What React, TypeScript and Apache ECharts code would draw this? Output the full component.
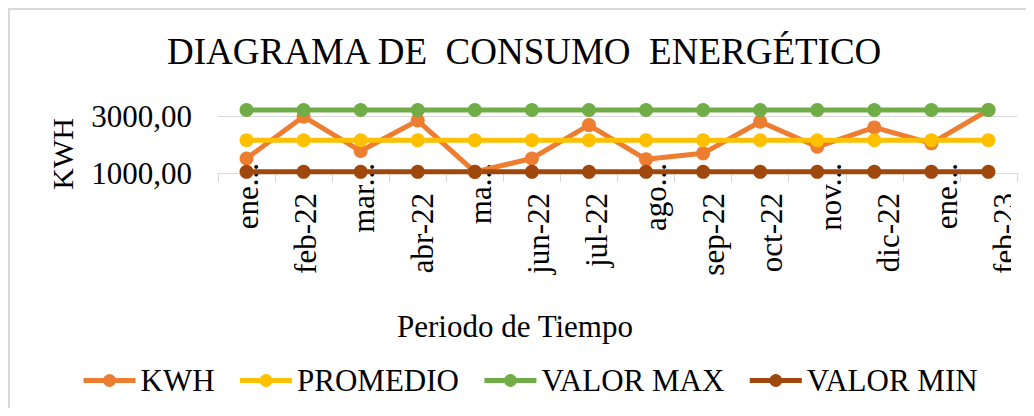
import React, { useEffect, useRef } from "react";
import * as echarts from "echarts";

// Monthly energy consumption (kWh) with its average, maximum and minimum
const months = [
  "ene-22", "feb-22", "mar-22", "abr-22", "may-22", "jun-22", "jul-22",
  "ago-22", "sep-22", "oct-22", "nov-22", "dic-22", "ene-23", "feb-23",
];
// Category labels as they appear under the axis (long ones are shortened)
const tickLabels = [
  "ene...", "feb-22", "mar...", "abr-22", "ma...", "jun-22", "jul-22",
  "ago...", "sep-22", "oct-22", "nov...", "dic-22", "ene...", "feb-23",
];
const kwh = [1510, 2980, 1770, 2840, 1040, 1510, 2680, 1480, 1690, 2800, 1920, 2600, 2040, 3210];
const promedio = [2150, 2150, 2150, 2150, 2150, 2150, 2150, 2150, 2150, 2150, 2150, 2150, 2150, 2150];
const valorMax = [3210, 3210, 3210, 3210, 3210, 3210, 3210, 3210, 3210, 3210, 3210, 3210, 3210, 3210];
const valorMin = [1040, 1040, 1040, 1040, 1040, 1040, 1040, 1040, 1040, 1040, 1040, 1040, 1040, 1040];
const yTicks = { min: 1000, max: 3000, interval: 2000 };

const FONT = "'Liberation Serif', 'Times New Roman', serif";
const GRID_COLOR = "#d9d9d9";

function lineSeries(name: string, data: number[], color: string) {
  return {
    name,
    type: "line",
    data,
    xAxisIndex: 0,
    yAxisIndex: 0,
    clip: false,
    symbol: "circle",
    symbolSize: 14,
    lineStyle: { width: 5, color },
    itemStyle: { color },
  };
}

export default function App() {
  const ref = useRef<HTMLDivElement>(null);

  useEffect(() => {
    document.body.style.overflow = "hidden";
    if (!ref.current) return;
    const chart = echarts.init(ref.current, null, { renderer: "svg" });

    const labelStyle = { fontFamily: FONT, fontSize: 31, color: "#000" };

    chart.setOption({
      animation: false,
      backgroundColor: "transparent",
      title: {
        text: "DIAGRAMA DE  CONSUMO  ENERGÉTICO",
        left: 159,
        top: 25,
        padding: 0,
        textStyle: { fontFamily: FONT, fontSize: 37, fontWeight: "normal", color: "#000" },
      },
      legend: {
        left: 73,
        top: 357,
        padding: 0,
        itemWidth: 52,
        itemHeight: 16,
        itemGap: 23,
        lineStyle: { width: 5 },
        textStyle: { fontFamily: FONT, fontSize: 31, color: "#000" },
        data: ["KWH", "PROMEDIO", "VALOR MAX", "VALOR MIN"],
      },
      grid: [
        { left: 210, right: 17, top: 108, bottom: 235, containLabel: false },
        // wider twin grid that only carries the category labels
        { left: 210, right: -3, top: 108, bottom: 235, containLabel: false },
      ],
      xAxis: [
        {
          type: "category",
          gridIndex: 0,
          data: months,
          boundaryGap: true,
          axisLine: { show: true, lineStyle: { color: GRID_COLOR, width: 1 } },
          axisTick: { show: true, length: 9, lineStyle: { color: GRID_COLOR } },
          axisLabel: { show: false },
          name: "Periodo de Tiempo",
          nameLocation: "middle",
          nameGap: 138,
          nameTextStyle: { ...labelStyle, padding: [0, 205, 0, 0] },
        },
        {
          type: "category",
          gridIndex: 1,
          data: months,
          boundaryGap: true,
          axisLine: { show: false },
          axisTick: { show: false },
          splitLine: { show: false },
          axisLabel: {
            interval: 0,
            rotate: 90,
            margin: -10,
            ...labelStyle,
            formatter: (_: string, i: number) => {
              const t = tickLabels[i];
              return t.endsWith("...") ? `{cut|${t}}` : `{full|${t}}`;
            },
            rich: {
              cut: { ...labelStyle },
              full: { ...labelStyle, padding: [0, 30, 0, 0] },
            },
          },
        },
      ],
      yAxis: [
        {
          type: "value",
          gridIndex: 0,
          min: yTicks.min,
          max: yTicks.max,
          interval: yTicks.interval,
          axisLine: { show: false },
          axisTick: { show: false },
          splitLine: { show: true, lineStyle: { color: GRID_COLOR, width: 1 } },
          axisLabel: {
            ...labelStyle,
            margin: 26,
            formatter: (v: number) => v.toFixed(2).replace(".", ","),
          },
          name: "KWH",
          nameLocation: "middle",
          nameGap: 141,
          nameTextStyle: { fontFamily: FONT, fontSize: 30, color: "#000", padding: [0, 19, 0, 0] },
        },
        { type: "value", gridIndex: 1, show: false, min: 0, max: 1 },
      ],
      graphic: [
        {
          type: "rect",
          z: 100,
          shape: { x: 1003, y: 177, width: 30, height: 120 },
          style: { fill: "#fff" },
        },
      ],
      series: [
        lineSeries("KWH", kwh, "#ED7D31"),
        lineSeries("PROMEDIO", promedio, "#FFC000"),
        lineSeries("VALOR MAX", valorMax, "#70AD47"),
        lineSeries("VALOR MIN", valorMin, "#9E480E"),
      ],
    });

    return () => chart.dispose();
  }, []);

  return (
    <div
      style={{
        position: "relative",
        width: 1026,
        height: 400,
        borderLeft: "2px solid #d9d9d9",
        borderTop: "2px solid #d9d9d9",
        boxSizing: "border-box",
      }}
    >
      <div ref={ref} style={{ position: "absolute", left: -2, top: -2, width: 1026, height: 400 }} />
    </div>
  );
}
